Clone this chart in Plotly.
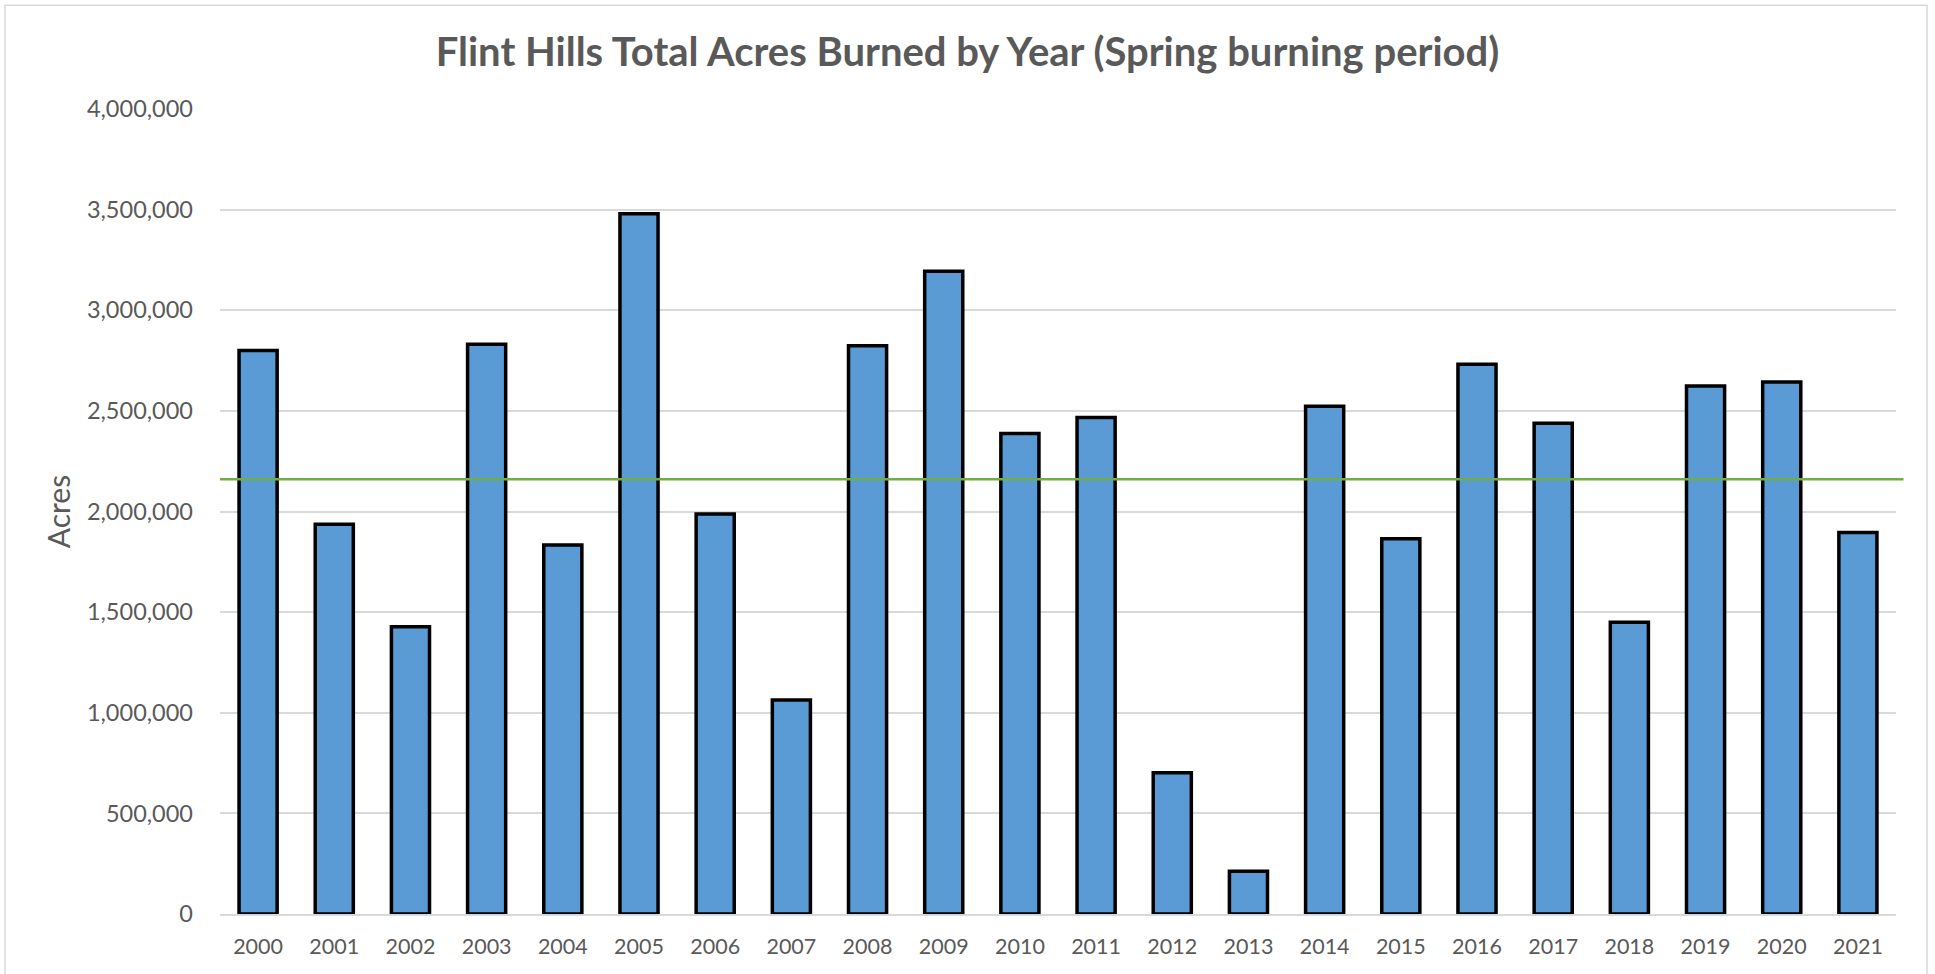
import plotly.graph_objects as go

years = ["2000", "2001", "2002", "2003", "2004", "2005", "2006", "2007", "2008", "2009", "2010",
         "2011", "2012", "2013", "2014", "2015", "2016", "2017", "2018", "2019", "2020", "2021"]
acres_burned = [2800000, 1937000, 1427000, 2831000, 1834000, 3480000, 1987000, 1063000, 2823000, 3194000,
                2387000, 2467000, 702000, 212000, 2523000, 1864000, 2732000, 2439000, 1450000, 2624000,
                2644000, 1896000]
average_acres = 2160000
y_ticks = [0, 500000, 1000000, 1500000, 2000000, 2500000, 3000000, 3500000, 4000000]

FONT = "Lato"
TEXT = "#595959"

fig = go.Figure()
fig.add_trace(go.Bar(
    x=years, y=acres_burned,
    marker=dict(color="#5B9BD5", line=dict(color="#000000", width=3.5)),
    showlegend=False,
))

# average line (extends slightly beyond plot area like the original)
fig.add_shape(type="line", xref="paper", yref="y", x0=0, x1=1.0045,
              y0=average_acres, y1=average_acres,
              line=dict(color="#70AD47", width=2.5), layer="above")

# chart border
fig.add_shape(type="rect", xref="paper", yref="paper", x0=-0.1283, x1=1.0185, y0=-0.2, y1=1.129,
              line=dict(color="#D9D9D9", width=1.5), fillcolor="rgba(0,0,0,0)", layer="below")

fig.update_layout(
    width=1935, height=974,
    margin=dict(l=220, r=39, t=109, b=60),
    paper_bgcolor="white", plot_bgcolor="white",
    bargap=0.5,
    title=dict(text="<b>Flint Hills Total Acres Burned by Year (Spring burning period)</b>",
               x=0.5, xref="container", xanchor="center",
               y=1 - 52 / 974, yref="container", yanchor="middle",
               font=dict(family=FONT, size=40, color=TEXT)),
    font=dict(family=FONT, color=TEXT),
)
fig.update_xaxes(
    type="category", showgrid=False, showline=True, linecolor="#D9D9D9", linewidth=1.5,
    ticks="", tickfont=dict(family=FONT, size=21.5, color=TEXT), ticklabelstandoff=12,
)
fig.update_yaxes(
    range=[0, 4000000], tickvals=y_ticks, tickformat=",d",
    showgrid=True, gridcolor="#D9D9D9", gridwidth=1.5, zeroline=False, showline=False,
    ticks="", tickfont=dict(family=FONT, size=23.5, color=TEXT), ticklabelstandoff=26,
    title=dict(text="Acres", font=dict(family=FONT, size=30, color=TEXT), standoff=7),
)

fig.write_html("out.html", config={"displayModeBar": False},
               post_script="document.body.style.margin='0';")
